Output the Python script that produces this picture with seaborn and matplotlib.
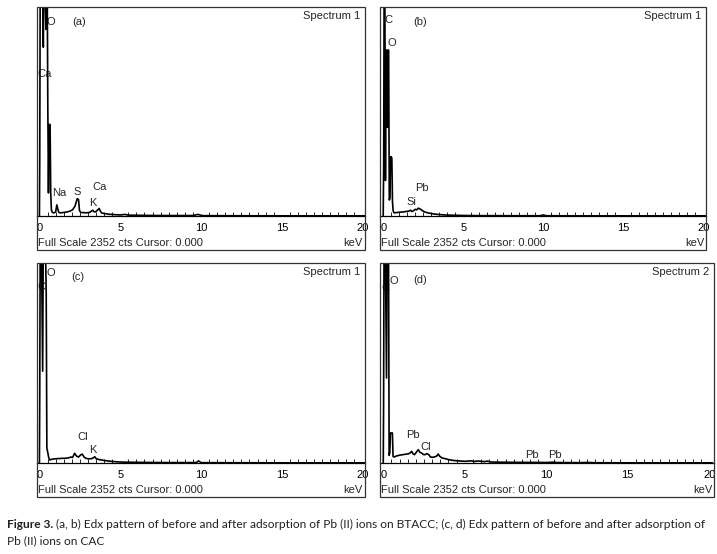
import matplotlib
matplotlib.use('Agg')
import matplotlib.pyplot as plt
import seaborn as sns
from matplotlib.patches import Rectangle
from matplotlib.ticker import MultipleLocator

sns.set_style('white')
plt.rcParams['font.family'] = ['Liberation Sans', 'DejaVu Sans']

FULL_SCALE = 2352

# spectra: energy (keV) and counts
energy_a = [0.00, 0.02, 0.05, 0.12, 0.20, 0.24, 0.28, 0.34, 0.40, 0.44, 0.48, 0.52, 0.56, 0.60, 0.66, 0.70,
            0.74, 0.80, 0.90, 1.00, 1.08, 1.14, 1.20, 1.30, 1.50, 1.70, 1.90, 2.05, 2.20, 2.34, 2.42, 2.48,
            2.56, 2.70, 2.90, 3.10, 3.30, 3.36, 3.44, 3.56, 3.70, 3.76, 3.84, 4.00, 4.30, 4.70, 5.00, 5.30,
            5.50, 6.00, 7.00, 8.00, 9.50, 9.80, 10.1, 12.0, 15.0, 20.2]
counts_a = [0, 650, 2700, 2700, 2700, 1900, 2700, 2700, 2100, 2700, 2700, 1200, 260, 1030, 1030, 260,
            70, 40, 35, 45, 125, 75, 40, 35, 40, 45, 55, 70, 110, 195, 185, 60,
            40, 38, 36, 40, 65, 50, 45, 60, 85, 60, 35, 28, 20, 15, 12, 18,
            10, 8, 6, 5, 5, 18, 4, 3, 2, 2]

energy_b = [0.00, 0.03, 0.06, 0.10, 0.14, 0.18, 0.22, 0.26, 0.30, 0.34, 0.38, 0.42, 0.46, 0.50, 0.54, 0.58,
            0.62, 0.66, 0.72, 0.80, 0.90, 1.00, 1.20, 1.40, 1.60, 1.72, 1.80, 1.90, 2.00, 2.10, 2.20, 2.30,
            2.45, 2.60, 2.80, 3.00, 3.20, 3.40, 3.60, 3.80, 4.00, 4.50, 5.00, 5.50, 6.00, 7.00, 8.00, 9.80,
            10.0, 10.2, 12.0, 15.0, 20.2]
counts_b = [0, 600, 2700, 2700, 400, 1867, 1867, 1000, 1867, 1867, 180, 200, 667, 667, 650, 161,
            60, 40, 35, 38, 40, 42, 45, 50, 55, 65, 50, 60, 75, 70, 88, 80,
            60, 45, 35, 28, 22, 18, 15, 12, 10, 8, 6, 5, 4, 4, 3, 3,
            12, 3, 2, 2, 2]

energy_c = [0.00, 0.02, 0.05, 0.12, 0.20, 0.24, 0.30, 0.36, 0.42, 0.46, 0.52, 0.58, 0.64, 0.70, 0.80, 1.00,
            1.20, 1.40, 1.60, 1.80, 1.95, 2.05, 2.18, 2.30, 2.42, 2.55, 2.66, 2.76, 2.88, 3.00, 3.20, 3.34,
            3.42, 3.52, 3.70, 4.00, 4.40, 4.80, 5.20, 6.00, 7.00, 8.00, 9.00, 9.70, 9.85, 10.0, 12.0, 15.0,
            20.2]
counts_c = [0, 800, 2700, 2700, 1080, 2700, 2700, 2700, 2000, 176, 120, 60, 35, 40, 45, 50,
            52, 55, 55, 60, 70, 65, 114, 80, 70, 95, 104, 70, 55, 50, 50, 60,
            74, 50, 40, 30, 20, 14, 10, 8, 6, 5, 5, 5, 25, 4, 3, 2,
            2]

energy_d = [0.00, 0.02, 0.05, 0.12, 0.20, 0.24, 0.28, 0.32, 0.36, 0.40, 0.44, 0.50, 0.56, 0.60, 0.66, 0.80,
            1.00, 1.20, 1.40, 1.55, 1.66, 1.74, 1.82, 1.92, 2.04, 2.15, 2.25, 2.35, 2.46, 2.56, 2.68, 2.78,
            2.90, 3.05, 3.20, 3.30, 3.37, 3.46, 3.60, 3.80, 4.00, 4.30, 4.60, 5.00, 5.40, 5.60, 5.80, 6.20,
            6.40, 6.60, 7.00, 8.00, 9.00, 10.0, 10.5, 10.6, 11.0, 12.0, 12.6, 13.0, 15.0, 20.2]
counts_d = [0, 650, 2700, 2700, 1000, 2700, 2700, 2700, 90, 120, 353, 353, 353, 78, 70, 82,
            92, 98, 104, 108, 120, 137, 110, 98, 130, 157, 125, 118, 100, 98, 110, 100,
            70, 67, 75, 85, 106, 80, 60, 51, 40, 30, 25, 20, 25, 18, 24, 16,
            22, 12, 10, 8, 7, 6, 10, 6, 5, 4, 6, 3, 2, 2]

# peak labels: text, keV, counts
labels_a = [('O', 0.41, 2186), ('(a)', 2.06, 2186), ('Ca', -0.13, 1594), ('Na', 0.76, 260),
            ('S', 2.10, 271), ('Ca', 3.30, 328), ('K', 3.07, 150)]
labels_b = [('C', 0.10, 2205), ('O', 0.25, 1943), ('(b)', 1.88, 2186), ('Pb', 1.98, 311), ('Si', 1.46, 161)]
labels_c = [('C', -0.13, 2073), ('O', 0.41, 2231), ('(c)', 2.00, 2191), ('Cl', 2.35, 302), ('K', 3.07, 153)]
labels_d = [('C', -0.10, 2058), ('O', 0.37, 2140), ('(d)', 1.84, 2150), ('Pb', 1.43, 325), ('Cl', 2.29, 188),
            ('Pb', 8.70, 98), ('Pb', 10.10, 98)]

spectrum_names = ['Spectrum 1', 'Spectrum 1', 'Spectrum 1', 'Spectrum 2']
tick_values = [0, 5, 10, 15, 20]
footer = 'Full Scale 2352 cts Cursor: 0.000'

W, H = 717, 554
fig = plt.figure(figsize=(W / 100, H / 100), dpi=100)

# pixel layout: left, top, right, axis line, box bottom, xlim
layout = [
    (37, 7, 365, 216, 250, (-0.15, 20.15)),
    (380, 7, 706, 216, 250, (-0.2, 20.17)),
    (37, 263, 365, 463, 497, (-0.15, 20.15)),
    (380, 263, 714, 463, 497, (-0.2, 20.29)),
]
spectra = [(energy_a, counts_a, labels_a), (energy_b, counts_b, labels_b),
           (energy_c, counts_c, labels_c), (energy_d, counts_d, labels_d)]

for (x0, yt, x1, ya, yb, xlim), (en, ct, labs), name in zip(layout, spectra, spectrum_names):
    ax = fig.add_axes([x0 / W, 1 - ya / H, (x1 - x0) / W, (ya - yt) / H])
    ax.patch.set_alpha(0)
    sns.lineplot(x=en, y=ct, ax=ax, color='black', linewidth=1.2, sort=False, estimator=None, zorder=3)
    ax.set_xlim(*xlim)
    ax.set_ylim(0, FULL_SCALE)
    for s in ['left', 'right', 'top']:
        ax.spines[s].set_visible(False)
    ax.spines['bottom'].set_color('black')
    ax.spines['bottom'].set_linewidth(0.9)
    ax.set_yticks([])
    ax.set_xticks(tick_values)
    ax.set_xticklabels([str(v) for v in tick_values], fontsize=8)
    ax.xaxis.set_minor_locator(MultipleLocator(0.5))
    ax.tick_params(axis='x', which='major', direction='inout', length=6, width=0.8, pad=2, colors='black')
    ax.tick_params(axis='x', which='minor', direction='in', length=3, width=0.7, bottom=True)
    for txt, e, c in labs:
        ax.text(e, c, txt, ha='left', va='center', fontsize=8, zorder=2, clip_on=False)
    ax.annotate(name, xy=(1, 1), xycoords='axes fraction', xytext=(-5, -9), textcoords='offset pixels',
                ha='right', va='center', fontsize=8)
    off = -(yb - ya) + 7
    ax.annotate(footer, xy=(0, 0), xycoords='axes fraction', xytext=(1, off), textcoords='offset pixels',
                ha='left', va='center', fontsize=8)
    ax.annotate('keV', xy=(1, 0), xycoords='axes fraction', xytext=(-2, off), textcoords='offset pixels',
                ha='right', va='center', fontsize=8)
    fig.add_artist(Rectangle((x0 / W, 1 - yb / H), (x1 - x0) / W, (yb - yt) / H, transform=fig.transFigure,
                             fill=False, edgecolor='#333333', linewidth=0.9))

cap_font = ['Lato', 'DejaVu Sans']
cap_size = 8.6
t1 = fig.text(7 / W, 1 - 524 / H, 'Figure 3.', fontweight='bold', family=cap_font, fontsize=cap_size,
              va='center', color='#231f20')
fig.axes[0].annotate(' (a, b) Edx pattern of before and after adsorption of Pb (II) ions on BTACC; '
                     '(c, d) Edx pattern of before and after adsorption of',
                     xy=(1, 0.5), xycoords=t1, ha='left', va='center', family=cap_font, fontsize=cap_size,
                     color='#231f20', annotation_clip=False)
fig.text(7 / W, 1 - 541 / H, 'Pb (II) ions on CAC', family=cap_font, fontsize=cap_size, va='center',
         color='#231f20')

fig.savefig('out.png', dpi=100)
